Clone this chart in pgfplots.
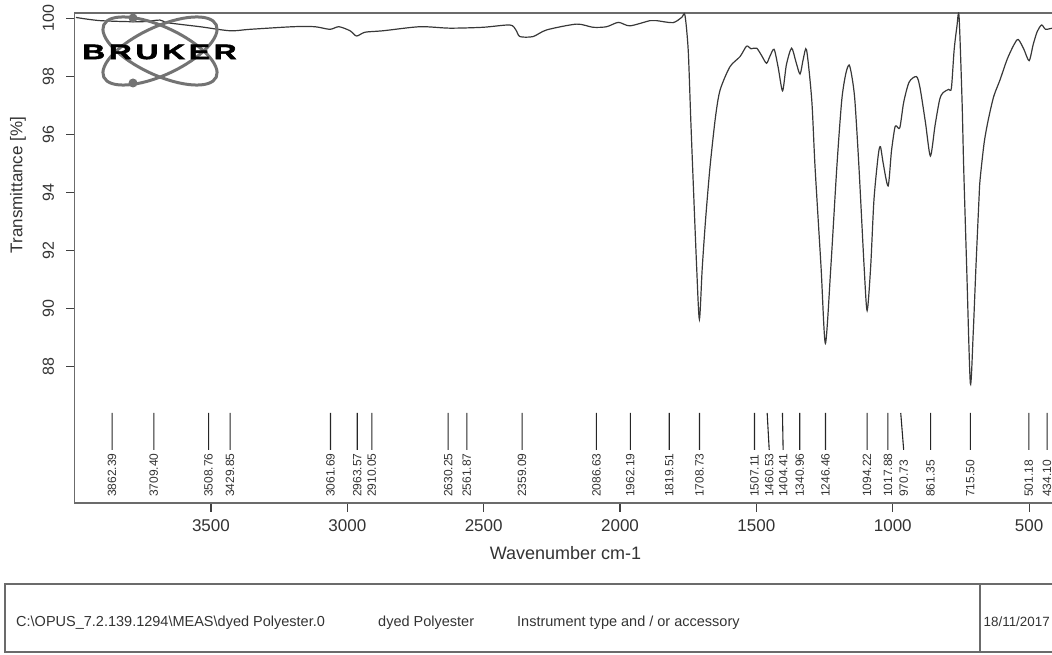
\documentclass[border=0pt]{standalone}
\usepackage{fontspec}
\setmainfont{Liberation Sans}
\newfontfamily\logofont[BoldFeatures={FakeBold=2}]{Liberation Sans}
\usepackage{pgfplots}
\pgfplotsset{compat=1.18}
\usepackage{pgfplotstable}
\usepackage{graphicx}

\definecolor{framegray}{gray}{0.42}
\definecolor{curvegray}{gray}{0.22}
\definecolor{logogray}{gray}{0.45}
\definecolor{textgray}{gray}{0.2}

% IR transmittance spectrum, wavenumber (cm-1) vs transmittance (%)
\pgfplotstableread{
wn      T
3995    100.03
3907    99.92
3760    99.88
3687    99.94
3661    99.85
3540    99.71
3430    99.57
3357    99.62
3199    99.71
3119    99.71
3064    99.62
3031    99.71
2990    99.57
2966    99.39
2935    99.52
2869    99.57
2734    99.71
2624    99.66
2503    99.69
2404    99.77
2382    99.60
2367    99.37
2319    99.37
2269    99.60
2159    99.80
2099    99.69
2049    99.71
2006    99.86
1964    99.74
1890    99.92
1866    99.92
1806    99.85
1774    100.03
1762    100.11
1750    98.9
1741    96.6
1734    94.9
1719    91.4
1709    89.62
1698.5  91.4
1686    93.1
1670    94.88
1650    96.6
1633    97.53
1597    98.33
1560    98.68
1536    99.04
1520    98.95
1499    98.97
1480    98.7
1463    98.45
1450    98.7
1435    98.93
1420    98.3
1404    97.50
1390    98.4
1371    98.97
1355    98.5
1340    98.08
1328    98.6
1316    98.91
1297    97.18
1285    94.88
1263    91.43
1247    88.79
1227    91.43
1205    94.88
1187    97.18
1172    98.1
1160    98.39
1150    98.0
1139    97.18
1124    94.88
1105    91.43
1094    89.92
1081    91.43
1069    93.73
1053    95.3
1045    95.57
1035    95.0
1017    94.22
1005    95.4
993     96.2
987     96.29
974     96.23
960     97.1
940     97.8
913     97.99
900     97.6
880     96.4
862     95.25
845     96.3
828     97.2
815     97.44
795     97.55
785     97.59
775     98.9
765     99.7
757     100.08
746     97.18
740     94.88
729     91.43
715.5   87.41
705     89.14
695     91.43
684     93.73
680     94.42
665     95.7
650     96.49
630     97.3
607     97.87
580     98.6
555     99.1
540     99.27
520     98.95
500     98.54
485     99.1
470     99.55
454     99.77
440     99.62
420     99.65
400     99.68
}\spectrum

% peak picks: label position and value
\pgfplotstableread{
wl       lab
3862.39  3862.39
3709.40  3709.40
3508.76  3508.76
3429.85  3429.85
3061.69  3061.69
2963.57  2963.57
2910.05  2910.05
2630.25  2630.25
2561.87  2561.87
2359.09  2359.09
2086.63  2086.63
1962.19  1962.19
1819.51  1819.51
1708.73  1708.73
1507.11  1507.11
1453.00  1460.53
1402.00  1404.41
1340.96  1340.96
1246.46  1246.46
1094.22  1094.22
1017.88  1017.88
960.00   970.73
861.35   861.35
715.50   715.50
501.18   501.18
434.10   434.10
}\peaklabels

\begin{document}
\begin{tikzpicture}[x=1pt,y=1pt]
\begin{axis}[
  at={(74.6pt,151pt)}, anchor=south west,
  scale only axis, width=981.8pt, height=490pt,
  x dir=reverse, xmin=400, xmax=4000,
  ymin=83.286, ymax=100.183,
  xtick={500,1000,...,3500}, ytick={88,90,...,100},
  xtick pos=bottom, ytick pos=left,
  tick align=outside, major tick length=8.5pt,
  axis line style={framegray, line width=1.3pt},
  every tick/.style={black!75, line width=1.2pt},
  /pgf/number format/assume math mode=true,
  /pgf/number format/1000 sep={},
  xticklabel style={font=\fontsize{17}{20}\selectfont, text=textgray},
  yticklabel style={rotate=90, anchor=south, font=\fontsize{16}{19}\selectfont, text=textgray},
  yticklabel shift=8.5pt, xticklabel shift=5pt,
  xlabel={Wavenumber cm-1}, ylabel={Transmittance [\%]},
  xlabel style={at={(axis description cs:0.5,-0.102)}, anchor=center,
    font=\fontsize{18}{21}\selectfont, text=textgray},
  ylabel style={at={(axis description cs:-0.0576,0.649)}, anchor=center,
    font=\fontsize{17}{20}\selectfont, text=textgray},
  unbounded coords=jump,
]
% spectrum
\addplot[curvegray, line width=1.2pt, smooth, tension=0.45] table[x=wn, y=T] {\spectrum};

% leader lines of the peak picks (top at the peak, bottom at the label)
\addplot[black!85, line width=1.1pt] coordinates {
  (3862.39,86.39) (3862.39,85.12) (3862.39,nan)
  (3709.40,86.39) (3709.40,85.12) (3709.40,nan)
  (3508.76,86.39) (3508.76,85.12) (3508.76,nan)
  (3429.85,86.39) (3429.85,85.12) (3429.85,nan)
  (3061.69,86.39) (3061.69,85.12) (3061.69,nan)
  (2963.57,86.39) (2963.57,85.12) (2963.57,nan)
  (2910.05,86.39) (2910.05,85.12) (2910.05,nan)
  (2630.25,86.39) (2630.25,85.12) (2630.25,nan)
  (2561.87,86.39) (2561.87,85.12) (2561.87,nan)
  (2359.09,86.39) (2359.09,85.12) (2359.09,nan)
  (2086.63,86.39) (2086.63,85.12) (2086.63,nan)
  (1962.19,86.39) (1962.19,85.12) (1962.19,nan)
  (1819.51,86.39) (1819.51,85.12) (1819.51,nan)
  (1708.73,86.39) (1708.73,85.12) (1708.73,nan)
  (1507.11,86.39) (1507.11,85.12) (1507.11,nan)
  (1460.53,86.39) (1453.00,85.12) (1453.00,nan)
  (1404.41,86.39) (1402.00,85.12) (1402.00,nan)
  (1340.96,86.39) (1340.96,85.12) (1340.96,nan)
  (1246.46,86.39) (1246.46,85.12) (1246.46,nan)
  (1094.22,86.39) (1094.22,85.12) (1094.22,nan)
  (1017.88,86.39) (1017.88,85.12) (1017.88,nan)
  (970.73,86.39)  (960.00,85.12)  (960.00,nan)
  (861.35,86.39)  (861.35,85.12)  (861.35,nan)
  (715.50,86.39)  (715.50,85.12)  (715.50,nan)
  (501.18,86.39)  (501.18,85.12)  (501.18,nan)
  (434.10,86.39)  (434.10,85.12)
};

% peak pick labels
\addplot[draw=none, mark=none, nodes near coords, point meta=explicit symbolic,
  nodes near coords style={rotate=90, anchor=west, inner sep=0pt,
    font=\fontsize{12}{14}\selectfont, text=textgray}]
  table[x=wl, y expr=83.49, meta=lab] {\peaklabels};
\end{axis}

% instrument logo
\begin{scope}
  \draw[logogray, line width=3pt, rotate around={-25:(160pt,603pt)}]
    (160pt,603pt) ellipse [x radius=62pt, y radius=24pt];
  \draw[logogray, line width=3pt, rotate around={25:(160pt,603pt)}]
    (160pt,603pt) ellipse [x radius=62pt, y radius=24pt];
  \fill[logogray] (133pt,636pt) circle [radius=4.5pt];
  \fill[logogray] (133pt,571pt) circle [radius=4.5pt];
  \node[inner sep=0pt, text=black] at (159.5pt,602pt)
    {\scalebox{1.5}[1]{\fontsize{21}{21}\selectfont\logofont\bfseries B\kern2.6pt R\kern2.6pt U\kern2.6pt K\kern2.6pt E\kern2.6pt R}};
\end{scope}

% file information box
\draw[framegray, line width=1.4pt] (5pt,2pt) rectangle (1070pt,70pt);
\draw[framegray, line width=1.4pt] (980pt,2pt) -- (980pt,70pt);
\begin{scope}[every node/.style={anchor=base west, inner sep=0pt, text=textgray,
    font=\fontsize{14.5}{17}\selectfont}]
  \node at (16pt,27.1pt) {C:\textbackslash OPUS\_7.2.139.1294\textbackslash MEAS\textbackslash dyed Polyester.0};
  \node at (378pt,27.1pt) {dyed Polyester};
  \node at (517pt,27.1pt) {Instrument type and / or accessory};
  \node[font=\fontsize{13.4}{16}\selectfont] at (983.5pt,27.1pt) {18/11/2017};
\end{scope}

\pgfresetboundingbox
\path[use as bounding box] (0pt,0pt) rectangle (1052pt,654pt);
\end{tikzpicture}
\end{document}
